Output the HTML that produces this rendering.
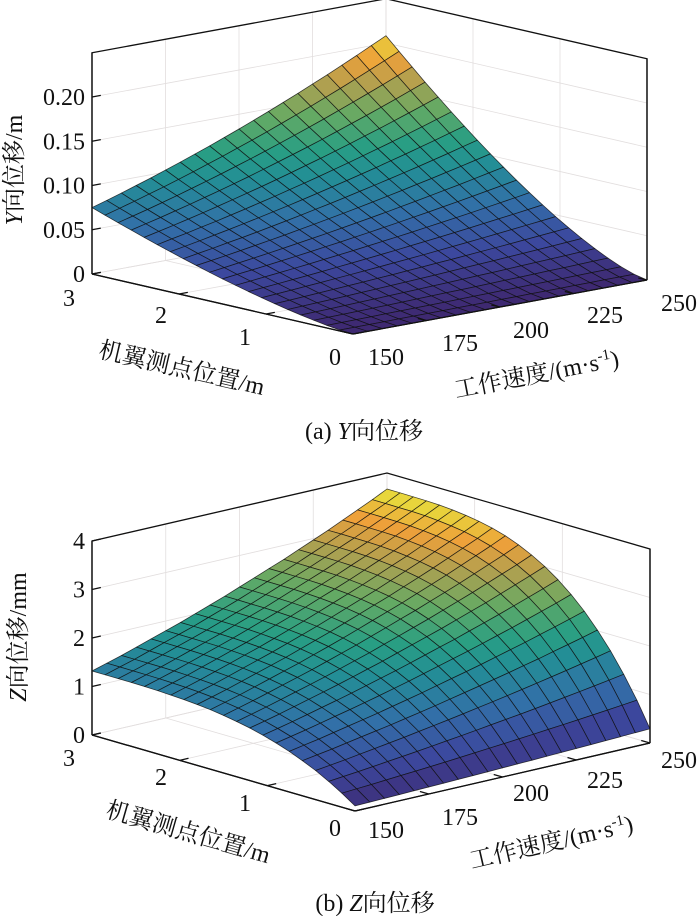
<!DOCTYPE html>
<html><head><meta charset="utf-8">
<style>
html,body{margin:0;padding:0;background:#fff;}
svg{display:block;}
text{font-family:"Liberation Serif","Noto Serif CJK SC",serif;fill:#111;}
</style></head>
<body>
<svg id="fig" width="700" height="916" viewBox="0 0 700 916" xmlns="http://www.w3.org/2000/svg">
<g id="chartA"></g>
<g id="chartB"></g>
<text x="364" y="439" font-size="24" text-anchor="middle">(a) <tspan font-style="italic">Y</tspan>向位移</text>
<text x="375" y="911" font-size="24" text-anchor="middle">(b) <tspan font-style="italic">Z</tspan>向位移</text>
</svg>
<script>
// ---- data ----
const velocities = [150,155,160,165,170,175,180,185,190,195,200,205,210,215,220,225,230,235,240,245,250];
const positions = [0,0.15,0.3,0.45,0.6,0.75,0.9,1.05,1.2,1.35,1.5,1.65,1.8,1.95,2.1,2.25,2.4,2.55,2.7,2.85,3];
// Y displacement (m): amplitude at wing tip vs speed, and spanwise shape
const ampY = [0.075,0.0801,0.0853,0.0908,0.0963,0.1021,0.108,0.1141,0.1203,0.1268,0.1333,0.1401,0.147,0.1541,0.1613,0.1688,0.1763,0.1841,0.192,0.2001,0.2083];
const shapeY = [0,0.0151,0.0398,0.0702,0.105,0.1436,0.1853,0.2299,0.2772,0.327,0.3789,0.433,0.489,0.547,0.607,0.668,0.732,0.7965,0.863,0.931,1];
// Z displacement (mm)
const ampZ = [1.32,1.41,1.50,1.60,1.70,1.80,1.90,2.01,2.12,2.23,2.35,2.47,2.59,2.71,2.84,2.97,3.10,3.24,3.38,3.52,3.67];
const shapeZ = [0.08,0.219,0.343,0.454,0.549,0.634,0.706,0.768,0.821,0.864,0.900,0.929,0.951,0.968,0.980,0.989,0.995,0.998,0.999,1.0,1.0];
const posTicks = [0,1,2,3];
const velTicks = [150,175,200,225,250];
const zTicksA = [0,0.05,0.10,0.15,0.20];
const zTickLabelsA = ["0","0.05","0.10","0.15","0.20"];
const zTicksB = [0,1,2,3,4];
const zTickLabelsB = ["0","1","2","3","4"];

const NS = "http://www.w3.org/2000/svg";
const cmapStops = [[0,[62,40,112]],[0.15,[60,72,158]],[0.3,[50,112,168]],[0.45,[35,142,150]],[0.55,[40,158,132]],[0.68,[100,170,100]],[0.8,[175,160,80]],[0.9,[238,160,58]],[1,[230,228,60]]];
function cmap(t){
  t=Math.max(0,Math.min(1,t));
  for(let i=1;i<cmapStops.length;i++){
    if(t<=cmapStops[i][0]){
      const a=cmapStops[i-1],b=cmapStops[i];const u=(t-a[0])/(b[0]-a[0]);
      const c=a[1].map((x,k)=>Math.round(x+(b[1][k]-x)*u));
      return `rgb(${c[0]},${c[1]},${c[2]})`;
    }
  }
  return "rgb(230,228,60)";
}
function mk(parent,tag,attrs){const e=document.createElementNS(NS,tag);for(const k in attrs)e.setAttribute(k,attrs[k]);parent.appendChild(e);return e;}

function drawChart(g,cfg,amp,shape,zTicks,zLabels){
  const F=cfg.F,L=cfg.L,R=cfg.R;
  const P=(p,v,z)=>[F[0]+p/3*(L[0]-F[0])+(v-150)/100*(R[0]-F[0]), F[1]+p/3*(L[1]-F[1])+(v-150)/100*(R[1]-F[1])-z*cfg.zs];
  const zmax=cfg.zmax;
  const grid=mk(g,"g",{stroke:"#e2dede","stroke-width":"0.8",fill:"none"});
  
  
  const line=(par,a,b)=>mk(par,"line",{x1:a[0],y1:a[1],x2:b[0],y2:b[1]});
  zTicks.forEach(z=>{line(grid,P(3,150,z),P(3,250,z));line(grid,P(3,250,z),P(0,250,z));});
  velTicks.forEach(v=>{line(grid,P(3,v,0),P(3,v,zmax));line(grid,P(0,v,0),P(3,v,0));});
  posTicks.forEach(p=>{line(grid,P(p,250,0),P(p,250,zmax));line(grid,P(p,150,0),P(p,250,0));});
  const box=mk(g,"g",{stroke:"#111","stroke-width":"1.3",fill:"none"});
  
  
  mk(box,"polyline",{points:[P(3,150,0),P(3,150,zmax),P(3,250,zmax),P(0,250,zmax),P(0,250,0)].map(q=>q.join(",")).join(" ")});
  line(box,P(3,150,0),P(0,150,0));line(box,P(0,150,0),P(0,250,0));
  const zmin=0, zcmax=Math.max(...amp)*Math.max(...shape);
  const cells=[];
  for(let i=0;i<positions.length-1;i++)for(let j=0;j<velocities.length-1;j++)cells.push([i,j]);
  cells.sort((a,b)=>(b[0]+b[1])-(a[0]+a[1]));
  const surf=mk(g,"g",{stroke:"rgba(15,15,15,0.8)","stroke-width":"0.75","stroke-linejoin":"round"});
  
  
  const val=(i,j)=>amp[j]*shape[i];
  cells.forEach(([i,j])=>{
    const pts=[[i,j],[i+1,j],[i+1,j+1],[i,j+1]].map(([a,b])=>P(positions[a],velocities[b],val(a,b)));
    const zav=(val(i,j)+val(i+1,j)+val(i+1,j+1)+val(i,j+1))/4;
    const poly=mk(surf,"polygon",{points:pts.map(q=>q[0].toFixed(1)+","+q[1].toFixed(1)).join(" "),fill:cmap((zav-zmin)/(zcmax-zmin))});
    
    
  });
  const ax=mk(g,"g",{stroke:"#111","stroke-width":"1.3",fill:"none"});
  
  
  line(ax,P(3,150,0),P(0,150,0));line(ax,P(0,150,0),P(0,250,0));
  line(ax,P(3,150,0),P(3,150,zmax));line(ax,P(0,250,0),P(0,250,zmax));
  posTicks.forEach(p=>line(ax,P(p,150,0),P(p,153,0)));
  velTicks.forEach(v=>line(ax,P(0,v,0),P(0.1,v,0)));
  zTicks.forEach(z=>line(ax,P(3,150,z),P(3,153,z)));
  const fs=24;
  zTicks.forEach((z,k)=>{const q=P(3,150,z);const t=mk(g,"text",{x:q[0]-7,y:q[1]+8,"font-size":fs,"text-anchor":"end"});t.textContent=zLabels[k];
    });
  posTicks.forEach((p,k)=>{const q=cfg.posLab[k];const t=mk(g,"text",{x:q[0],y:q[1]+8,"font-size":fs,"text-anchor":"middle"});t.textContent=String(p);
    });
  velTicks.forEach((v,k)=>{const q=cfg.velLab[k];const t=mk(g,"text",{x:q[0],y:q[1]+8,"font-size":fs,"text-anchor":"middle"});t.textContent=String(v);
    });
}

const cfgA={F:[353,334],L:[92,274],R:[647,280],zs:885,zmax:0.25,
  posLab:[[335,357],[245,337],[161,315],[69,298]],
  velLab:[[386,357],[460,343],[531,330],[605,315],[679,303]]};
const cfgB={F:[355,811],L:[92,735],R:[650,743],zs:48.5,zmax:4,
  posLab:[[335,828],[245,803],[161,777],[69,758]],
  velLab:[[386,830],[460,817],[531,793],[605,780],[679,760]]};
drawChart(document.getElementById("chartA"),cfgA,ampY,shapeY,zTicksA,zTickLabelsA);
drawChart(document.getElementById("chartB"),cfgB,ampZ,shapeZ,zTicksB,zTickLabelsB);

function title(g,x,y,rot,html,name){
  const t=mk(g,"text",{x:0,y:0,"font-size":24,"text-anchor":"middle",transform:`translate(${x},${y}) rotate(${rot})`});
  t.innerHTML=html;
  
  
}
const gA=document.getElementById("chartA"),gB=document.getElementById("chartB");
title(gA,22,170,-90,'<tspan font-style="italic">Y</tspan>向位移/m','y-axis-title');
title(gA,180,376,13,'机翼测点位置/m','position-axis-title');
title(gA,538,382,-11,'工作速度/(m·s<tspan dy="-9" font-size="15">-1</tspan><tspan dy="9">)</tspan>','velocity-axis-title');
title(gB,26,637,-90,'<tspan font-style="italic">Z</tspan>向位移/mm','z-axis-title');
title(gB,186,840,16,'机翼测点位置/m','position-axis-title');
title(gB,553,850,-13,'工作速度/(m·s<tspan dy="-9" font-size="15">-1</tspan><tspan dy="9">)</tspan>','velocity-axis-title');
</script>
</body></html>
